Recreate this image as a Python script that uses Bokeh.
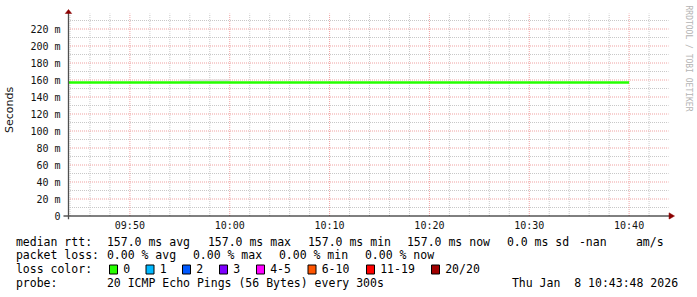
import math
from datetime import datetime
from bokeh.plotting import figure
from bokeh.models import Range1d, FixedTicker, DatetimeTickFormatter
from bokeh.embed import file_html
from bokeh.resources import INLINE
from bokeh.core.properties import value

# ---------------- data ----------------
day = "2026-01-08"
graph_start = "09:43:48"
graph_end = "10:43:48"

rtt_times = ["09:43:48", "09:45", "09:50", "09:55", "10:00", "10:05", "10:10",
             "10:15", "10:20", "10:25", "10:30", "10:35", "10:40"]
rtt_median_ms = [157.0, 157.0, 157.0, 157.0, 157.0, 157.0, 157.0,
                 157.0, 157.0, 157.0, 157.0, 157.0, 157.0]

smoke_start = ["09:55"]
smoke_end = ["10:00"]
smoke_low_ms = [157.0]
smoke_high_ms = [160.5]

y_ticks = [0, 20, 40, 60, 80, 100, 120, 140, 160, 180, 200, 220]
y_tick_labels = ["0", "20 m", "40 m", "60 m", "80 m", "100 m", "120 m",
                 "140 m", "160 m", "180 m", "200 m", "220 m"]
x_ticks = ["09:50", "10:00", "10:10", "10:20", "10:30", "10:40"]

stats_rtt = ["157.0 ms avg", "157.0 ms max", "157.0 ms min", "157.0 ms now",
             "0.0 ms sd", "-nan", "am/s"]
stats_loss = ["0.00 % avg", "0.00 % max", "0.00 % min", "0.00 % now"]
loss_labels = ["0", "1", "2", "3", "4-5", "6-10", "11-19", "20/20"]
loss_colors = ["#26ff00", "#00b8ff", "#0059ff", "#7e00ff", "#ff00ff",
               "#ff5500", "#ff0000", "#a10000"]
probe_text = "20 ICMP Echo Pings (56 Bytes) every 300s"
stamp_text = "Thu Jan  8 10:43:48 2026"
vendor_text = "RRDTOOL / TOBI OETIKER"

# ---------------- helpers ----------------
EPOCH = datetime(1970, 1, 1)


def ms(hhmm):
    parts = [int(v) for v in hhmm.split(":")]
    while len(parts) < 3:
        parts.append(0)
    y, m, d = [int(v) for v in day.split("-")]
    dt = datetime(y, m, d, parts[0], parts[1], parts[2])
    return (dt - EPOCH).total_seconds() * 1000.0


MIN = 60000.0
t0 = ms(graph_start)
t1 = ms(graph_end)

# layout constants (pixels)
W, H_TOP, H_BOT = 697, 235, 62
FRAME_L, FRAME_R, FRAME_T, FRAME_B = 61, 697, 0, 219
X0_PX, PX_PER_MIN = 66.5, 10.0
Y0_PX, PX_PER_MS = 215.5, 0.85


def px_x(px):
    return t0 + (px - X0_PX) / PX_PER_MIN * MIN


def px_y(py):
    return (Y0_PX - py) / PX_PER_MS


x_range = Range1d(px_x(FRAME_L), px_x(FRAME_R))
y_range = Range1d(px_y(FRAME_B), px_y(FRAME_T))

p = figure(width=W, height=H_TOP, x_range=x_range, y_range=y_range,
           x_axis_type="datetime", output_backend="svg", toolbar_location=None,
           min_border_left=FRAME_L, min_border_right=0, min_border_top=0,
           min_border_bottom=H_TOP - FRAME_B)
p.xgrid.visible = False
p.ygrid.visible = False
p.outline_line_color = None
p.background_fill_color = "white"
p.border_fill_color = "white"

# ---- grid ----
grid_top = px_y(13)
grid_right = px_x(668)
minor_color = "#c8c8c8"
major_color = "#eea0a0"
major_x = [ms(s) for s in x_ticks]
minor_x = []
tm = ms("09:44")
while tm < t1:
    if all(abs(tm - mx) > 1 for mx in major_x):
        minor_x.append(tm)
    tm += 2 * MIN
p.segment(x0=minor_x, y0=[0] * len(minor_x), x1=minor_x, y1=[grid_top] * len(minor_x),
          line_color=minor_color, line_width=1, line_dash="1 1")
minor_y = [v + 10 for v in y_ticks if v + 10 < grid_top]
p.segment(x0=[t0] * len(minor_y), y0=minor_y, x1=[grid_right] * len(minor_y), y1=minor_y,
          line_color=minor_color, line_width=1, line_dash="1 1")
major_y = [v for v in y_ticks if v > 0]
p.segment(x0=[t0] * len(major_y), y0=major_y, x1=[grid_right] * len(major_y), y1=major_y,
          line_color=major_color, line_width=1, line_dash="1 1")
p.segment(x0=major_x, y0=[0] * len(major_x), x1=major_x, y1=[grid_top] * len(major_x),
          line_color=major_color, line_width=1, line_dash="1 1")

# ---- data ----
p.quad(left=[ms(s) for s in smoke_start], right=[ms(s) for s in smoke_end],
       bottom=smoke_low_ms, top=smoke_high_ms, fill_color="#dcdcdc", line_color=None)
p.line(x=[ms(s) for s in rtt_times], y=rtt_median_ms, line_color="#26ff00", line_width=2.5)

# ---- axis lines + arrows ----
p.segment(x0=[px_x(62)], y0=[0], x1=[px_x(670)], y1=[0], line_color="black", line_width=1)
p.segment(x0=[px_x(67)], y0=[px_y(219)], x1=[px_x(67)], y1=[px_y(12)],
          line_color="#505050", line_width=1.3)
arrow_color = "#8b0000"
p.patch(x=[px_x(63.8), px_x(67), px_x(70.2)], y=[px_y(13), px_y(9), px_y(13)],
        fill_color=arrow_color, line_color=arrow_color, line_width=0.5)
p.patch(x=[px_x(668.5), px_x(674), px_x(668.5)], y=[px_y(212.3), px_y(215.5), px_y(218.7)],
        fill_color=arrow_color, line_color=arrow_color, line_width=0.5)

# vendor text
p.text(x=[px_x(688)], y=[px_y(5)], text=[vendor_text], angle=-math.pi / 2,
       text_font=value("DejaVu Sans Mono"), text_font_size="8px",
       text_color="#b4b4b4", text_align="left", text_baseline="middle")

# ---- axes ----
xa = p.xaxis[0]
xa.ticker = FixedTicker(ticks=major_x)
xa.formatter = DatetimeTickFormatter(minutes="%H:%M", hours="%H:%M", minsec="%H:%M",
                                     seconds="%H:%M", days="%H:%M")
xa.axis_line_color = None
xa.major_tick_line_color = None
xa.minor_tick_line_color = None
xa.major_tick_out = 0
xa.major_tick_in = 0
xa.major_label_standoff = 0
xa.major_label_text_font = "DejaVu Sans Mono"
xa.major_label_text_font_size = "10px"
xa.major_label_text_color = "#111111"

ya = p.yaxis[0]
ya.ticker = FixedTicker(ticks=y_ticks)
ya.major_label_overrides = {v: lab for v, lab in zip(y_ticks, y_tick_labels)}
ya.axis_line_color = None
ya.major_tick_line_color = None
ya.minor_tick_line_color = None
ya.major_tick_out = 0
ya.major_tick_in = 0
ya.major_label_standoff = 2
ya.major_label_text_font = "DejaVu Sans Mono"
ya.major_label_text_font_size = "10px"
ya.major_label_text_color = "#111111"
ya.axis_label = "Seconds"
ya.axis_label_text_font = "DejaVu Sans"
ya.axis_label_text_font_size = "11px"
ya.axis_label_text_font_style = "normal"
ya.axis_label_text_color = "#111111"
ya.axis_label_standoff = 11

# ---------------- legend block (separate root, data units = pixels) ----------------
q = figure(width=W, height=H_BOT, x_range=Range1d(0, W), y_range=Range1d(H_BOT, 0),
           output_backend="svg", toolbar_location=None,
           min_border_left=0, min_border_right=0, min_border_top=0, min_border_bottom=0)
q.axis.visible = False
q.grid.visible = False
q.outline_line_color = None
q.background_fill_color = "white"
q.border_fill_color = "white"

ROW = [6.0, 19.3, 33.3, 47.3]

texts, xs, ys = [], [], []


def put(s, x, row):
    texts.append(s.replace("  ", "\u00a0 "))
    xs.append(x - 0.6)
    ys.append(ROW[row])


put("median rtt:", 16, 0)
for s, x in zip(stats_rtt, [107, 208, 308, 407, 507, 579, 636]):
    put(s, x, 0)
put("packet loss:", 16, 1)
for s, x in zip(stats_loss, [107, 193, 279, 365]):
    put(s, x, 1)
put("loss color:", 16, 2)
sq_left = [109, 145.5, 182, 219, 256, 307.5, 366, 431]
for s, x in zip(loss_labels, sq_left):
    put(s, x + 14.3, 2)
put("probe:", 16, 3)
put(probe_text, 107, 3)
put(stamp_text, 512, 3)

q.text(x=xs, y=ys, text=texts, text_font=value("DejaVu Sans Mono"), text_font_size="11.5px",
       text_baseline="middle", text_align="left", text_color="black")

q.rect(x=[v + 4 for v in sq_left], y=[ROW[2] + 0.7] * len(sq_left), width=8, height=9,
       fill_color=loss_colors, line_color="black", line_width=1)

open("out.html", "w").write(file_html([p, q], INLINE))
